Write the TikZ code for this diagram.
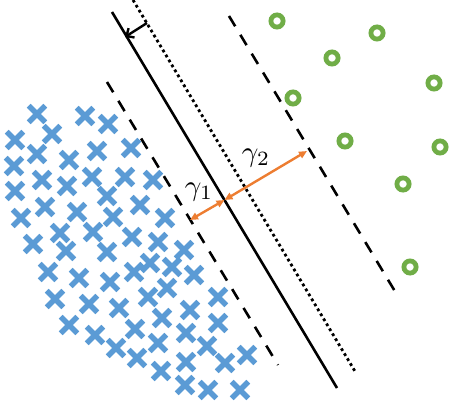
\documentclass[tikz,border=0pt]{standalone}
\usetikzlibrary{arrows.meta}
\definecolor{xblue}{RGB}{91,155,213}
\definecolor{ogreen}{RGB}{112,173,71}
\definecolor{morange}{RGB}{237,125,49}
\begin{document}
\begin{tikzpicture}[x=1pt, y=-1pt,
  cross/.style={xblue, line width=5.4pt},
  ring/.style={ogreen, line width=4.8pt},
  margin/.style={line width=2.6pt, dash pattern=on 12pt off 10pt},
  gap/.style={morange, line width=2.4pt, {Triangle[length=8pt,width=7pt]}-{Triangle[length=8pt,width=7pt]}},
  every node/.style={scale=2.9}]
  \useasboundingbox (0,0) rectangle (449,406);
  % class -1
  \foreach \x/\y in {37/114,85/116,108/124,52/134,15/140,131/148,97/151,37/154,69/160,14/166,
    92/177,125/177,153/180,42/180,67/186,15/191,107/196,140/205,45/207,77/212,113/217,165/218,
    21/218,60/233,93/232,132/237,158/242,33/244,66/251,107/252,184/250,150/263,172/267,134/272,
    48/272,79/278,110/282,194/275,167/288,148/297,218/297,55/299,89/304,119/308,190/310,162/318,
    218/323,69/325,135/329,95/335,186/333,158/343,116/348,207/346,247/355,137/358,225/363,
    186/362,161/371,185/385,208/390,240/390}
    \draw[cross] (\x-8.3,\y-8.3) -- (\x+8.3,\y+8.3) (\x-8.3,\y+8.3) -- (\x+8.3,\y-8.3);
  % class +1
  \foreach \x/\y in {277/21,377/33,332/58,434/83,293/98,345/141,440/147,403/184,410/267}
    \draw[ring] (\x,\y) circle (6.1);
  % hyperplanes
  \coordinate (hypA) at (112,12);  \coordinate (hypB) at (337,388);
  \coordinate (dotA) at (133,0);   \coordinate (dotB) at (356,373);
  \coordinate (negA) at (107,82);  \coordinate (negB) at (278,365);
  \coordinate (posA) at (229,16);  \coordinate (posB) at (399,298);
  \draw[line width=2.6pt] (hypA) -- (hypB);
  \draw[line width=2.8pt, dash pattern=on 2.8pt off 3pt] (dotA) -- (dotB);
  \draw[margin] (negA) -- (negB);
  \draw[margin] (posA) -- (posB);
  % margins
  \coordinate (mid) at (224.5,200); \coordinate (gA) at (190,220); \coordinate (gB) at (307,151);
  \draw[gap] (gA) -- (mid);
  \draw[gap] (mid) -- (gB);
  \coordinate (shiftA) at (147,23); \coordinate (shiftB) at (125,37);
  \draw[line width=2.4pt, -{Straight Barb[length=6pt,width=11pt]}] (shiftA) -- (shiftB);
  \node (g1) at (199,192) {$\gamma_1$};
  \node (g2) at (256,158) {$\gamma_2$};
\end{tikzpicture}
\end{document}
